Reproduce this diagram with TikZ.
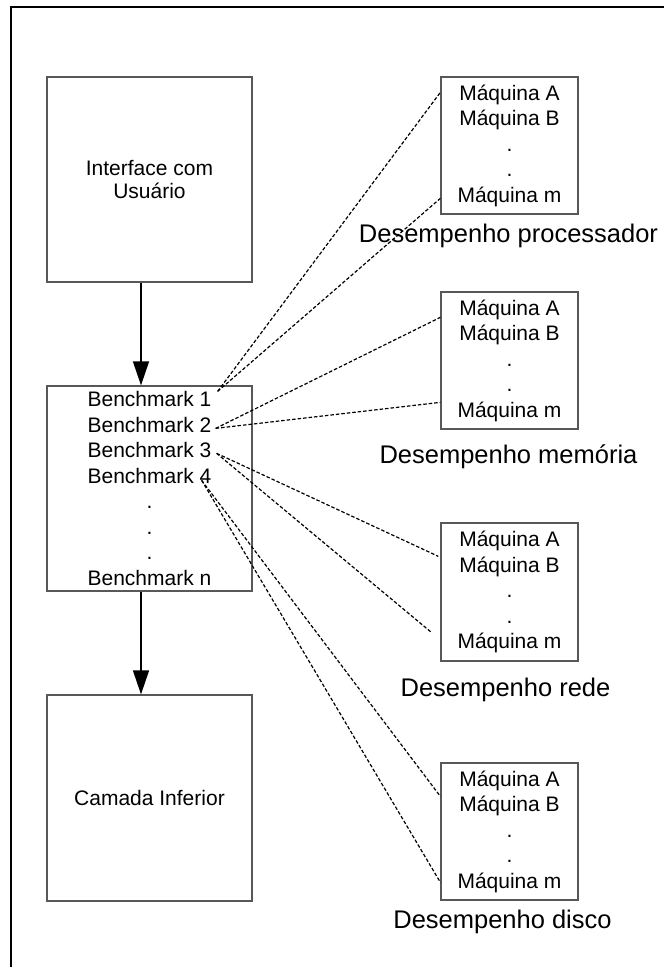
\documentclass[tikz,border=0pt]{standalone}
\usepackage{fontspec}
\setmainfont{Liberation Sans}
\usetikzlibrary{arrows.meta,calc}
\definecolor{boxgray}{RGB}{88,88,88}
\begin{document}
\begin{tikzpicture}[x=1pt,y=-1pt,
  box/.style={draw=boxgray,line width=1.3pt,rectangle,inner sep=0pt,align=center,
    font=\fontsize{21}{25.5}\selectfont},
  layer/.style={box,minimum width=205pt,minimum height=205pt},
  machines/.style={box,minimum width=137pt,minimum height=137pt},
  caption/.style={anchor=base,inner sep=0pt,font=\fontsize{25.5}{30}\selectfont},
  flow/.style={-{Triangle[length=24pt,width=16pt]},line width=1.4pt},
  link/.style={line width=1.2pt,dash pattern=on 3.5pt off 2pt}]
\useasboundingbox (0,0) rectangle (664,967);

% frame
\draw[line width=1.8pt] (11,967) -- (11,7) -- (664,7);

% layer stack
\node[layer] (ui) at (149.5,179.5) {Interface com\\[-2pt]Usuário};
\node[layer] (bench) at (149.5,488.5)
  {Benchmark 1\\Benchmark 2\\Benchmark 3\\Benchmark 4\\.\\.\\.\\Benchmark n};
\node[layer,minimum height=206pt] (low) at (149.5,798) {Camada Inferior};

\coordinate (ax) at (141,0);
\draw[flow] (ui.south -| ax) -- (bench.north -| ax);
\draw[flow] (bench.south -| ax) -- (low.north -| ax);

% result tables
\node[machines] (pA) at (509.5,145.5)
  {Máquina A\\Máquina B\\.\\.\\Máquina m};
\node[machines] (pB) at (509.5,360.5)
  {Máquina A\\Máquina B\\.\\.\\Máquina m};
\node[machines,minimum height=138pt] (pC) at (509.5,592)
  {Máquina A\\Máquina B\\.\\.\\Máquina m};
\node[machines] (pD) at (509.5,831.5)
  {Máquina A\\Máquina B\\.\\.\\Máquina m};

\node[caption] (cA) at ($(pA.south)+(-1,28)$) {Desempenho processador};
\node[caption] (cB) at ($(pB.south)+(-1,34)$) {Desempenho memória};
\node[caption] (cC) at ($(pC.south)+(-4,35)$) {Desempenho rede};
\node[caption] (cD) at ($(pD.south)+(-7,28)$) {Desempenho disco};

% benchmark line ends
\coordinate (s1) at ($(bench.north east)+(-35,6)$);
\coordinate (s2) at ($(bench.north east)+(-37,43)$);
\coordinate (s3) at ($(bench.north east)+(-36,68)$);
\coordinate (s4) at ($(bench.north east)+(-51,95)$);

% dashed links to each table
\draw[link] (s1) -- ($(pA.north west)+(0,16)$);
\draw[link] (s1) -- ($(pA.north west)+(0,122)$);
\draw[link] (s2) -- ($(pB.north west)+(0,26)$);
\draw[link] (s2) -- ($(pB.north west)+(0,111)$);
\draw[link] (s3) -- ($(pC.north west)+(-2,34)$);
\draw[link] (s3) -- ($(pC.north west)+(-9,110)$);
\draw[link] (s4) -- ($(pD.north west)+(0,34)$);
\draw[link] (s4) -- ($(pD.north west)+(0,120)$);
\end{tikzpicture}
\end{document}
